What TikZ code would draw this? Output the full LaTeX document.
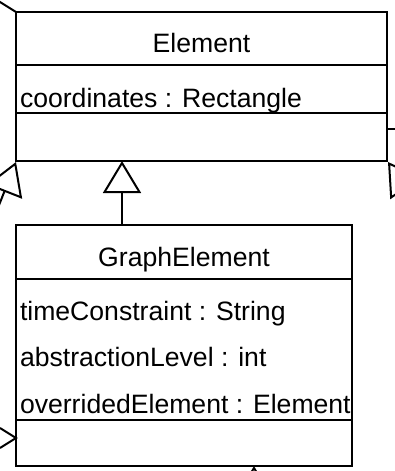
\documentclass[tikz,border=0pt]{standalone}
\usepackage{fontspec}
\setmainfont{Liberation Sans}
\usetikzlibrary{arrows.meta}
\begin{document}
\begin{tikzpicture}[x=1pt,y=-1pt,
  box/.style={draw,line width=2pt,rectangle,anchor=north west,inner sep=0pt,outer sep=0pt},
  lbl/.style={inner sep=0pt,outer sep=0pt,font=\fontsize{26.6}{30}\selectfont},
  sepline/.style={line width=2pt},
  inherit/.style={line width=2pt,-{Triangle[open,length=32pt,width=38pt]}},
  conn/.style={line width=2pt}]
\useasboundingbox (0,0) rectangle (395,471);
\clip (0,0) rectangle (395,471);
% Element class
\node[box,minimum width=371pt,minimum height=149pt] (el) at (16,12) {};
\draw[sepline] (16,65) -- (387,65);
\draw[sepline] (16,113) -- (387,113);
\node[lbl,anchor=base] (elname) at (201.5,52) {Element};
\node[lbl,anchor=base west] (elattr) at (20,107) {coordinates : Rectangle};
% GraphElement class
\node[box,minimum width=336pt,minimum height=241pt] (ge) at (16,225) {};
\draw[sepline] (16,279) -- (352,279);
\draw[sepline] (16,420) -- (352,420);
\node[lbl,anchor=base] (gename) at (184,266) {GraphElement};
\node[lbl,anchor=base west] (gea1) at (20,320) {timeConstraint : String};
\node[lbl,anchor=base west] (gea2) at (20,366) {abstractionLevel : int};
\node[lbl,anchor=base west] (gea3) at (20,413) {overridedElement : Element};
% connectors
\coordinate (elA) at (122,161);
\coordinate (geA) at (122,225);
\draw[inherit] (geA) -- (elA);
\coordinate (tl) at (-16,-8);
\draw[conn] (tl) -- (el.north west);
\coordinate (lbS) at (-21,256);
\coordinate (lbT) at (16,162);
\draw[inherit] (lbS) -- (lbT);
\coordinate (rtA) at (387,129);
\coordinate (rtB) at (420,129);
\draw[conn] (rtA) -- (rtB);
\coordinate (rbS) at (444.6,244.4);
\coordinate (rbT) at (388,162);
\draw[inherit] (rbS) -- (rbT);
\coordinate (vA) at (0,428);
\coordinate (vT) at (16,438);
\coordinate (vB) at (0,448);
\draw[conn] (vA) -- (vT) -- (vB);
\coordinate (btS) at (254,560);
\coordinate (btT) at (254,466);
\draw[inherit] (btS) -- (btT);
\end{tikzpicture}
\end{document}
